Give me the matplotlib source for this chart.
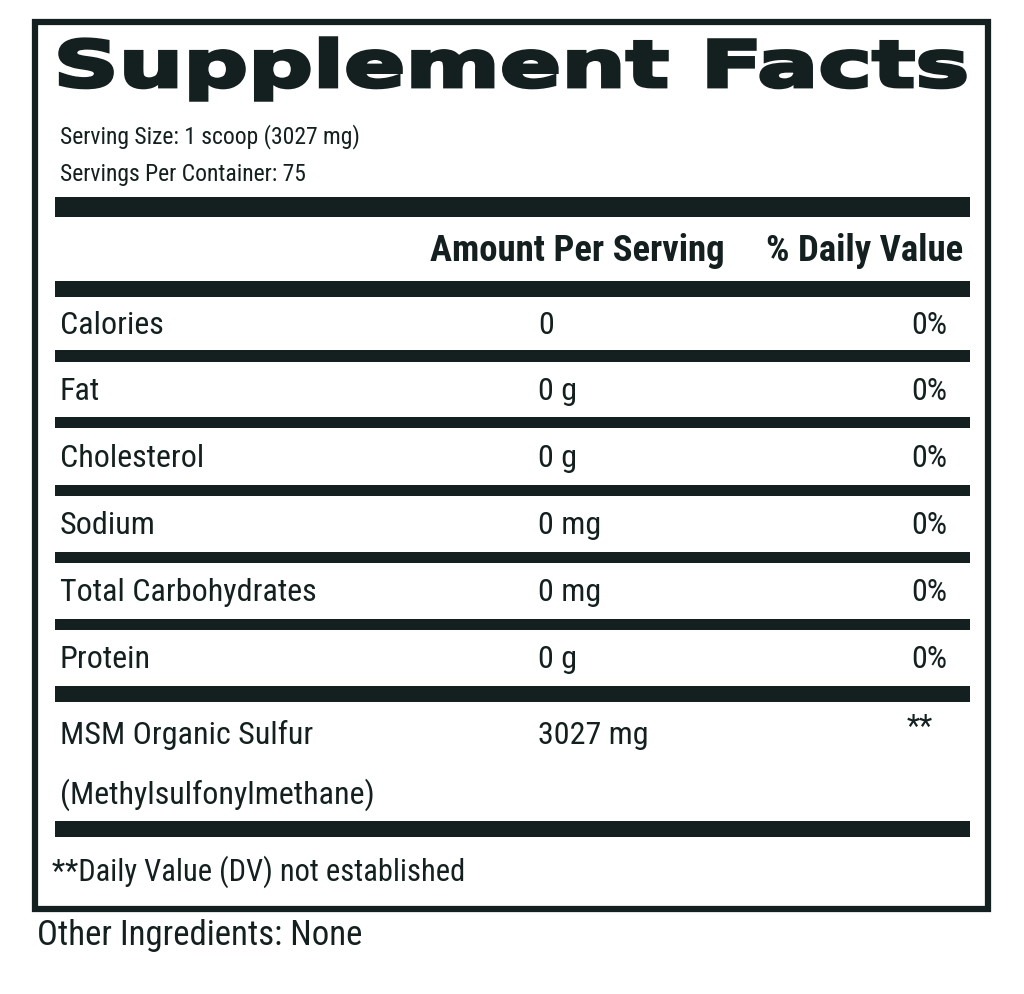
import matplotlib
matplotlib.use('Agg')
import matplotlib.pyplot as plt
from matplotlib.textpath import TextPath
from matplotlib.patches import PathPatch, Rectangle
from matplotlib.font_manager import FontProperties
from matplotlib.transforms import Affine2D

ink = '#13201f'
fam = ['Liberation Sans Narrow', 'Roboto Condensed', 'DejaVu Sans']

title = 'Supplement Facts'
serving = ['Serving Size: 1 scoop (3027 mg)', 'Servings Per Container: 75']
col_heads = ['Amount Per Serving', '% Daily Value']
nutrients = ['Calories', 'Fat', 'Cholesterol', 'Sodium', 'Total Carbohydrates', 'Protein']
amounts = ['0', '0 g', '0 g', '0 mg', '0 mg', '0 g']
dvs = ['0%', '0%', '0%', '0%', '0%', '0%']
extra_name = ['MSM Organic Sulfur', '(Methylsulfonylmethane)']
extra_amount = '3027 mg'
extra_dv = '**'
footnote = '**Daily Value (DV) not established'
other = 'Other Ingredients: None'

fig = plt.figure(figsize=(10.24, 9.94), dpi=100)
ax = fig.add_axes([0, 0, 1, 1])
ax.set_xlim(0, 1024)
ax.set_ylim(994, 0)
ax.axis('off')

# outer border
ax.add_patch(Rectangle((35, 22), 953, 887, fill=False, ec=ink, lw=4.5))

# title stretched to fit its box
tp = TextPath((0, 0), title, size=100, prop=FontProperties(family='DejaVu Sans', weight='heavy'))
bb = tp.get_extents()
x0, x1, y0, y1 = 60, 965, 38, 100
tr = Affine2D().translate(-bb.x0, -bb.y0).scale((x1 - x0) / bb.width, -(y1 - y0) / bb.height).translate(x0, y1)
ax.add_patch(PathPatch(tr.transform_path(tp), fc=ink, ec=ink, lw=2.5))

for i, s in enumerate(serving):
    ax.text(60, 137 + 37 * i, s, fontsize=17, family=fam, color=ink, va='center')

bars = [(197, 20), (281, 16), (350, 12), (417, 11), (485, 11), (552, 11), (619, 11), (686, 16), (821, 16)]
for y, h in bars:
    ax.add_patch(Rectangle((55, y), 915, h, fc=ink, ec='none'))

ax.text(430, 251, col_heads[0], fontsize=26.5, family=fam, weight='bold', color=ink, va='center')
ax.text(963, 251, col_heads[1], fontsize=26.5, family=fam, weight='bold', color=ink, va='center', ha='right')

for i, (n, a, d) in enumerate(zip(nutrients, amounts, dvs)):
    y = 325 + 66.8 * i
    ax.text(60, y, n, fontsize=23, family=fam, color=ink, va='center')
    ax.text(538, y, a, fontsize=23, family=fam, color=ink, va='center')
    ax.text(947, y, d, fontsize=23, family=fam, color=ink, va='center', ha='right')

ax.text(60, 735, extra_name[0], fontsize=23, family=fam, color=ink, va='center')
ax.text(60, 795, extra_name[1], fontsize=23, family=fam, color=ink, va='center')
ax.text(538, 735, extra_amount, fontsize=23, family=fam, color=ink, va='center')
ax.text(920, 727, extra_dv, fontsize=22, family=fam, color=ink, va='center', ha='center')

ax.text(52, 872, footnote, fontsize=22, family=fam, color=ink, va='center')
ax.text(37, 936, other, fontsize=25, family=fam, color=ink, va='center')

fig.savefig('out.png', dpi=100)
